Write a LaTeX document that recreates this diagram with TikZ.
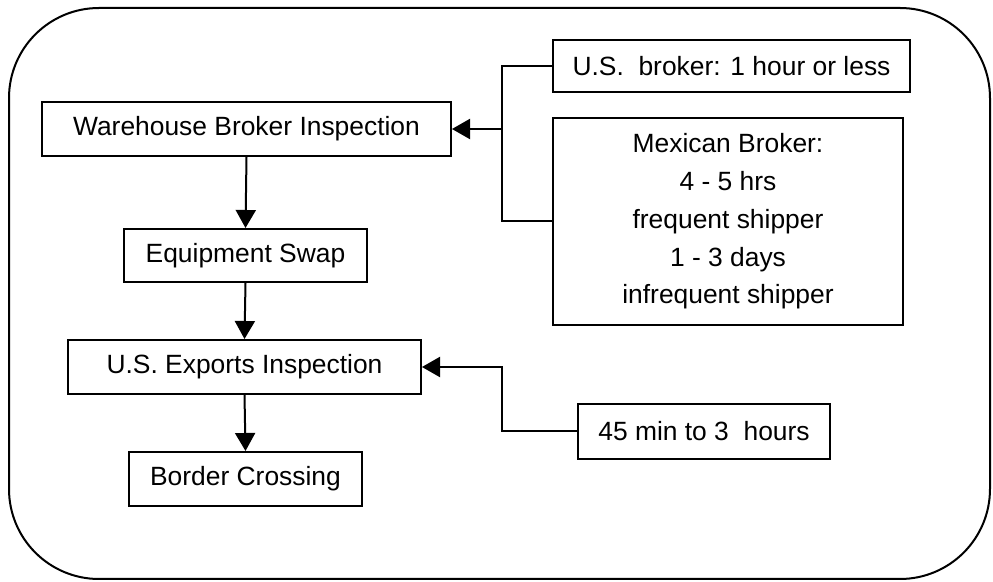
\documentclass[tikz,border=0pt]{standalone}
\usepackage{fontspec}
\setmainfont{Liberation Sans}
\usetikzlibrary{arrows.meta}
\begin{document}
\begin{tikzpicture}[x=0.5pt,y=-0.5pt,line width=1pt,
	box/.style={draw,inner sep=0pt,align=center,font=\fontsize{13.2}{18.9}\selectfont},
	flow/.style={-{Triangle[length=9pt,width=10pt]}}]
	\useasboundingbox (0,0) rectangle (993,582);
	\draw[rounded corners=45pt] (9,8) rectangle (990,579);
	\node[box,minimum width=204.5pt,minimum height=27pt] (wbi) at (246.5,129) {Warehouse Broker Inspection};
	\node[box,minimum width=121.5pt,minimum height=26.5pt] (swap) at (245.5,255.5) {Equipment Swap};
	\node[box,minimum width=176.5pt,minimum height=27pt] (exp) at (244.5,367) {U.S. Exports Inspection};
	\node[box,minimum width=116.5pt,minimum height=27pt] (cross) at (245.5,479) {Border Crossing};
	\node[box,minimum width=178.5pt,minimum height=26pt] (usb) at (731.5,66) {U.S.\ \ broker: 1 hour or less};
	\node[box,minimum width=175pt,minimum height=103.5pt] (mex) at (728,221.5) {Mexican Broker:\\4 - 5 hrs\\frequent shipper\\1 - 3 days\\infrequent shipper};
	\node[box,minimum width=126pt,minimum height=27.5pt] (time) at (704,431.5) {45 min to 3\ \ hours};
	\coordinate (brk) at (502,129);
	\coordinate (tk) at (502,367);
	\draw[flow] (wbi.south) -- (swap.north);
	\draw[flow] (swap.south) -- (exp.north);
	\draw[flow] (exp.south) -- (cross.north);
	\draw (usb.west) -| (brk) |- (mex.west);
	\draw[flow] (brk) -- (wbi.east);
	\draw[flow] (time.west) -| (tk) -- (exp.east);
\end{tikzpicture}
\end{document}
